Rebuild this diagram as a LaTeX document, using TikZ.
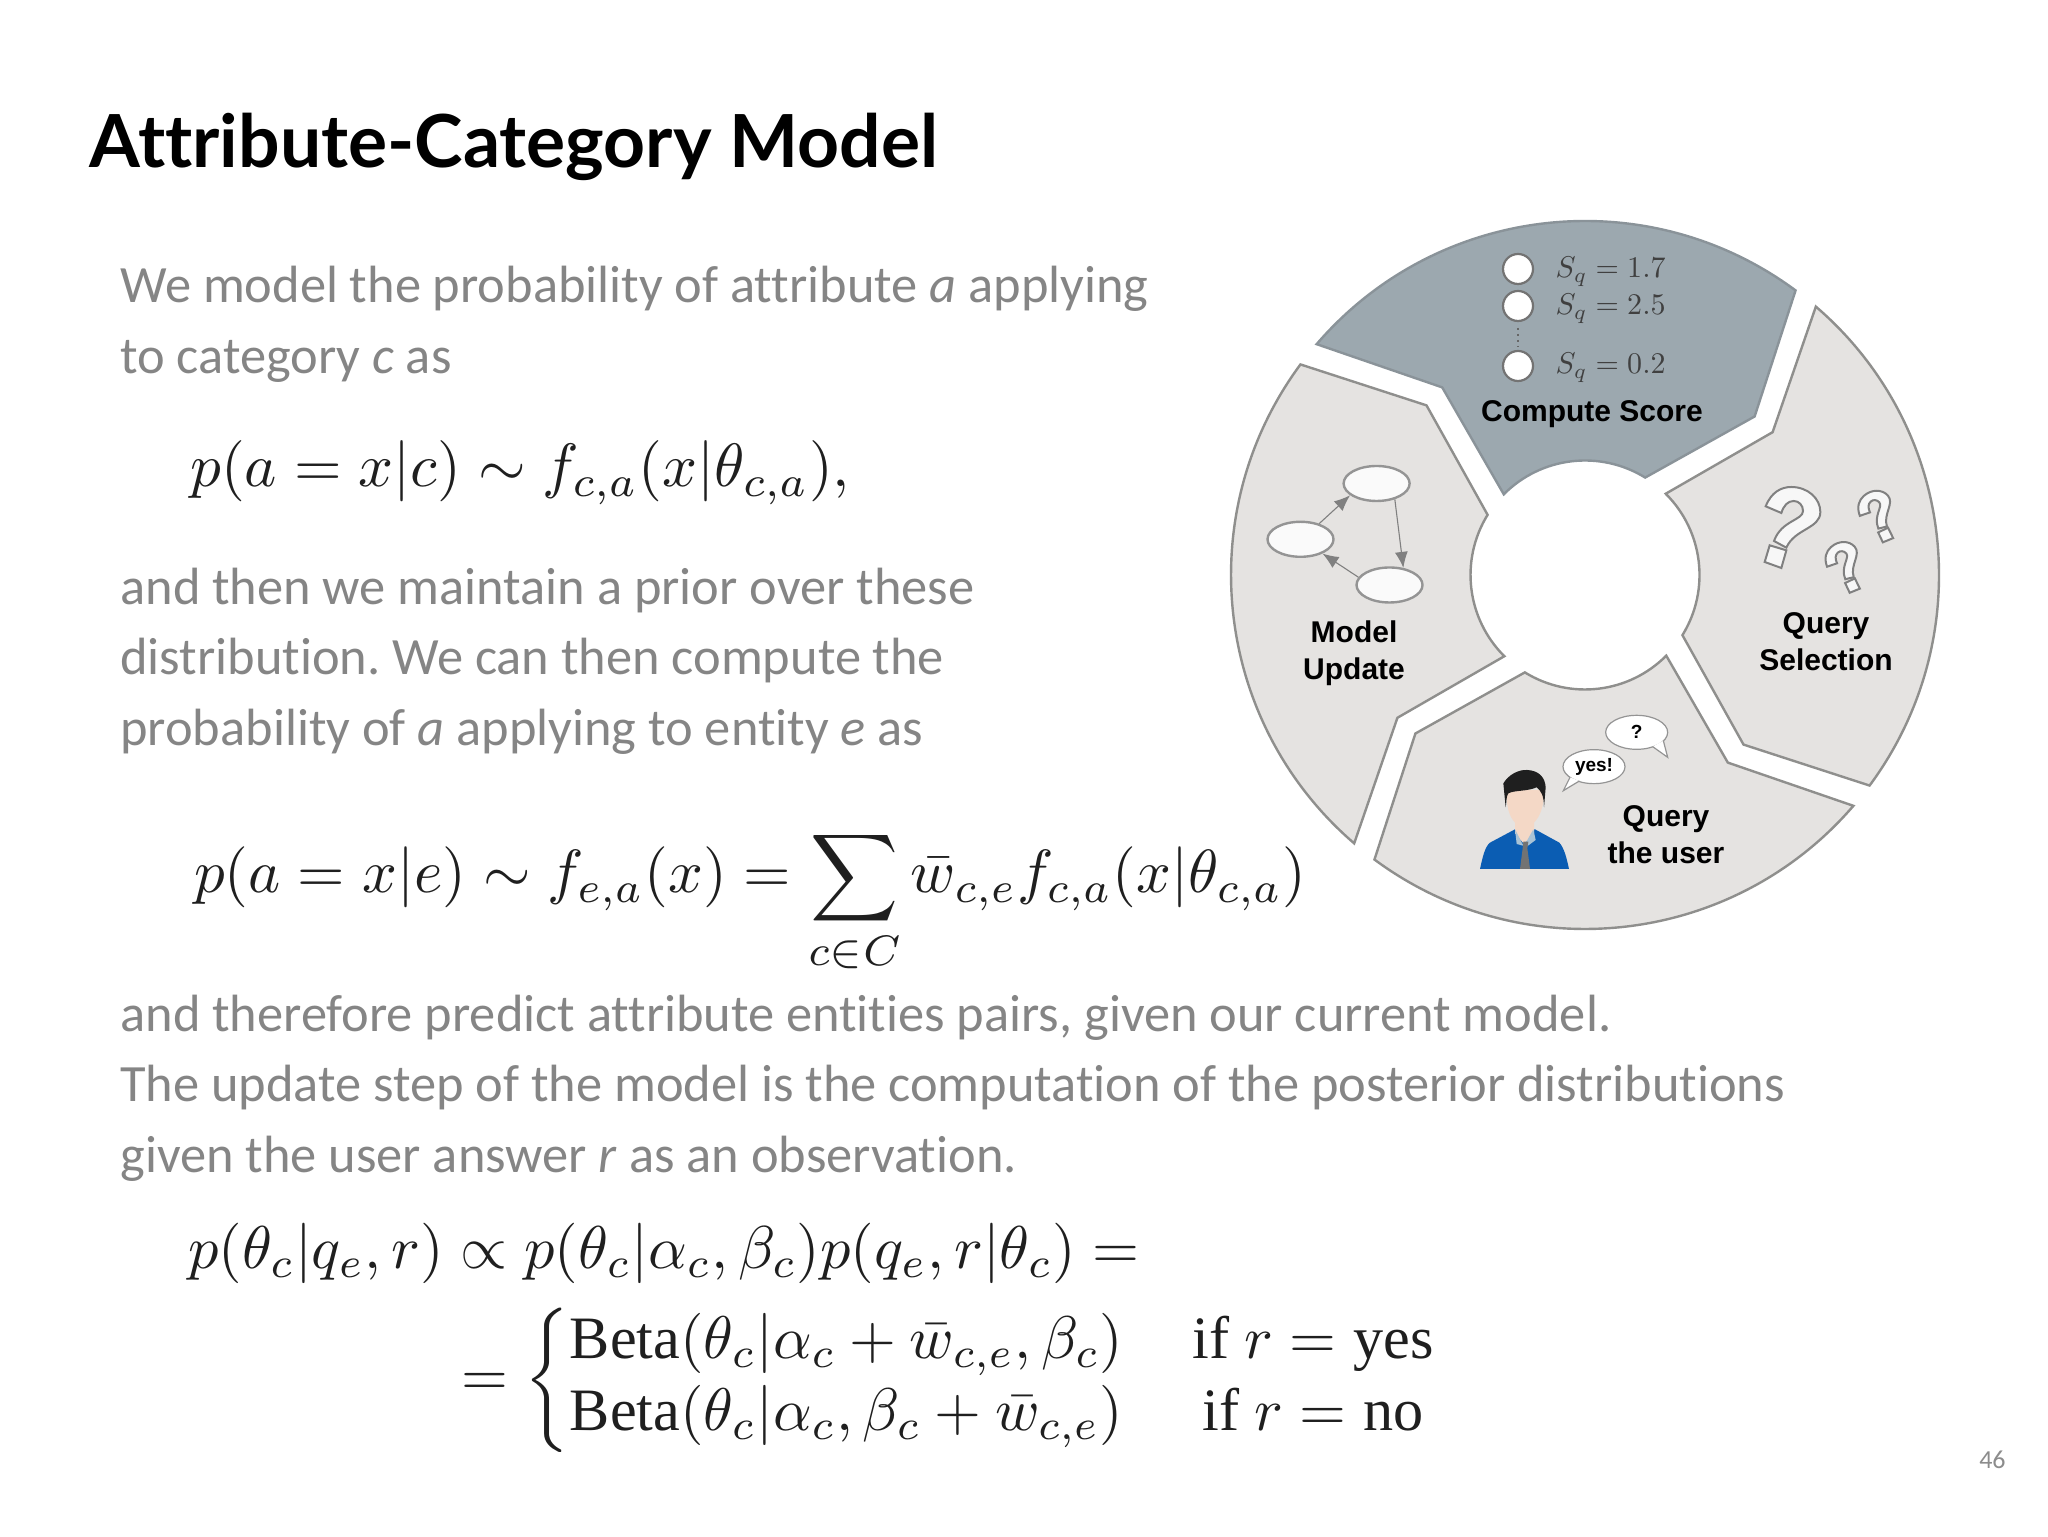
\documentclass[tikz,border=0pt]{standalone}
\usepackage{amsmath}
\usepackage[no-math]{fontspec}
\usetikzlibrary{arrows.meta,shapes.geometric}
\setmainfont[Ligatures=NoCommon]{Carlito}
\newfontfamily\titlefont[Ligatures=NoCommon]{Lato}
\newfontfamily\seglabelfont{Liberation Sans}
\newfontfamily\betafont{Liberation Serif}
\definecolor{darkseg}{HTML}{9CA8AF}
\definecolor{darkedge}{HTML}{8A9399}
\definecolor{lightseg}{HTML}{E5E3E1}
\definecolor{lightedge}{HTML}{8F8F8D}
\definecolor{bodygray}{HTML}{858585}
\definecolor{skin}{HTML}{F4D8C6}
\definecolor{shirtblue}{HTML}{0B5DB3}
\definecolor{collarblue}{HTML}{A9C3D6}
\tikzset{
  bodyline/.style={anchor=base west,inner sep=0pt,text=bodygray,font=\frenchspacing\fontsize{26.2}{30}\selectfont},
  eqn/.style={anchor=base west,inner sep=0pt,text=black!88},
  seglabel/.style={align=center,inner sep=0pt,font=\seglabelfont\bfseries\fontsize{15}{18.5}\selectfont},
  ringnode/.style={circle,draw=black!55,fill=white,line width=1.1pt,minimum size=15pt,inner sep=0pt},
  scorelabel/.style={anchor=base west,inner sep=0pt,text=black!75,scale=1.5},
  graphnode/.style={ellipse,draw=black!42,fill=white!98!black,line width=1.2pt,minimum width=33pt,minimum height=17.5pt,inner sep=0pt},
  grapharrow/.style={draw=black!50,line width=.55pt,-{Latex[length=8pt,width=6.5pt]}},
  bubble/.style={ellipse,draw=black!42,fill=white,line width=.6pt,minimum width=31pt,minimum height=17pt,inner sep=0pt,font=\seglabelfont\bfseries\fontsize{9.5}{11}\selectfont},
  qmark/.pic={
    \draw[draw=black!50,fill=white!97!black,line width=1pt]
      (-82,17) .. controls (-65,60) and (-35,75) .. (-5,75) .. controls (45,75) and (82,40) .. (82,0)
      .. controls (82,-50) and (5,-50) .. (-20,-107) -- (-57,-87)
      .. controls (-35,-25) and (30,-25) .. (30,3) .. controls (30,20) and (18,33) .. (2,33)
      .. controls (-15,33) and (-28,20) .. (-35,-3) -- cycle;
    \draw[draw=black!50,fill=white!97!black,line width=1pt]
      (-70,-100) -- (-20,-115) -- (-35,-168) -- (-85,-150) -- cycle;
  },
}
\begin{document}
\begin{tikzpicture}[x=.5pt,y=.5pt]
\useasboundingbox (0,0) rectangle (2048,1536);
\fill[white] (0,0) rectangle (2048,1536);
% title and text
\node (title) [anchor=base west,inner sep=0pt,font=\titlefont\bfseries\fontsize{36.6}{40}\selectfont] at (89,1368) {Attribute-Category Model};
\foreach \lnum/\ypos/\txt in {
  a/1233/{We model the probability of attribute \textit{a} applying},
  b/1162.5/{to category \textit{c} as},
  c/931/{and then we maintain a prior over these},
  d/861/{distribution. We can then compute the},
  e/790/{probability of \textit{a} applying to entity \textit{e} as},
  f/504/{and therefore predict attribute entities pairs, given our current model.},
  g/434/{The update step of the model is the computation of the posterior distributions},
  h/363/{given the user answer \textit{r} as an observation.}}
  \node (line\lnum) [bodyline] at (120,\ypos) {\txt};
% equations
\node (eqprob) [eqn,scale=3.06] at (189,1049) {$p(a=x|c)\sim f_{c,a}(x|\theta_{c,a}),$};
\node (eqsum) [eqn,scale=3.05] at (193,643) {$\displaystyle p(a=x|e)\sim f_{e,a}(x)=\sum_{c\in C}\bar{w}_{c,e}f_{c,a}(x|\theta_{c,a})$};
\node (eqpost) [eqn,scale=3.02] at (187,268) {$p(\theta_c|q_e,r)\propto p(\theta_c|\alpha_c,\beta_c)p(q_e,r|\theta_c)=$};
\node (eqcases) [anchor=west,inner sep=0pt,text=black!88,scale=3.01] at (460,156) {$=\left\{\begin{array}{@{}l@{\hspace{11.5pt}}c@{}}
  \mbox{\betafont Beta}(\theta_c|\alpha_c+\bar{w}_{c,e},\beta_c) & \mbox{\betafont if }r=\mbox{\betafont yes}\\
  \mbox{\betafont Beta}(\theta_c|\alpha_c,\beta_c+\bar{w}_{c,e}) & \mbox{\betafont if }r=\mbox{\betafont no}
  \end{array}\right.$};
\node (pagenum) [anchor=base east,inner sep=0pt,text=black!45,font=\fontsize{13}{15}\selectfont] at (2006,68) {46};
% the four parts of the wheel
\foreach \rot/\segfill/\segedge in {0/darkseg/darkedge,-90/lightseg/lightedge,-180/lightseg/lightedge,-270/lightseg/lightedge}
  \draw[shift={(1585,961)},rotate=\rot,fill=\segfill,draw=\segedge,line width=1.2pt,line join=miter]
    (139.3:354) arc[start angle=139.3,end angle=53.5,radius=354] -- (169.6,158.5)
    -- (58.3:114.5) arc[start angle=58.3,end angle=135.2,radius=114.5] -- (-142.8,187.6) -- cycle;
% compute score
\node (ringa) [ringnode] at (1518,1267) {};
\node (ringb) [ringnode] at (1518,1230) {};
\node (ringc) [ringnode] at (1518,1170) {};
\draw[black!60,line width=1pt,dotted] (ringb) ++(0,-22) -- ++(0,-19);
\node (scorea) [scorelabel] at (1555,1258) {$S_q=1.7$};
\node (scoreb) [scorelabel] at (1555,1221) {$S_q=2.5$};
\node (scorec) [scorelabel] at (1555,1162) {$S_q=0.2$};
\node (compute) [seglabel] at (1592,1122) {Compute Score};
% query selection
\pic at (1793,1024) [scale=1/3] {qmark};
\pic at (1842,978) [scale=.62/3,rotate=42] {qmark};
\pic at (1875,1029) [scale=.63/3,rotate=42] {qmark};
\node (selection) [seglabel] at (1826,894) {Query\\Selection};
% query the user
\node (user) [seglabel] at (1666,701) {Query\\the user};
\begin{scope}[shift={(1470,836)},x=.5pt/3,y=-.5pt/3]
  \fill[shirtblue] (30,507) .. controls (38,470) and (45,440) .. (60,428) -- (135,388) -- (195,388) -- (268,428) .. controls (283,445) and (290,475) .. (297,507) -- cycle;
  \fill[skin] (110,270) -- (222,270) .. controls (222,320) and (210,350) .. (192,368) -- (192,400) -- (162,432) -- (135,400) -- (135,368) .. controls (118,350) and (108,320) .. (110,270) -- cycle;
  \fill[collarblue] (135,388) -- (160,437) -- (172,420) -- (190,388) -- (197,420) -- (170,440) -- (140,432) -- cycle;
  \fill[black!55] (160,425) -- (175,425) -- (172,445) -- (180,507) -- (150,507) -- (158,445) -- cycle;
  \fill[black!88] (100,250) .. controls (115,225) and (145,208) .. (172,210) .. controls (205,212) and (225,230) .. (227,262) -- (222,322) .. controls (222,285) and (212,272) .. (200,262) .. controls (170,275) and (135,270) .. (115,280) .. controls (108,290) and (110,305) .. (107,322) -- cycle;
  \node (bubyes) [bubble] at (372,200) {yes!};
  \node (bubq) [bubble] at (500,97) {?};
  \fill[white] (300,232) -- (280,272) -- (328,243) -- cycle;
  \draw[black!42,line width=.6pt] (300,232) -- (280,272) -- (328,243);
  \fill[white] (580,122) -- (593,172) -- (548,140) -- cycle;
  \draw[black!42,line width=.6pt] (580,122) -- (593,172) -- (548,140);
\end{scope}
% model update
\node (gtop) [graphnode] at (1376.6,1052.5) {};
\node (gleft) [graphnode] at (1300.5,996.7) {};
\node (gbot) [graphnode] at (1389.5,951) {};
\draw[grapharrow] (gleft.40) -- (gtop.204);
\draw[grapharrow] (gtop.-41) -- (gbot.51);
\draw[grapharrow] (gbot.166) -- (gleft.-33);
\node (model) [seglabel] at (1354,883) {Model\\Update};
\end{tikzpicture}
\end{document}
